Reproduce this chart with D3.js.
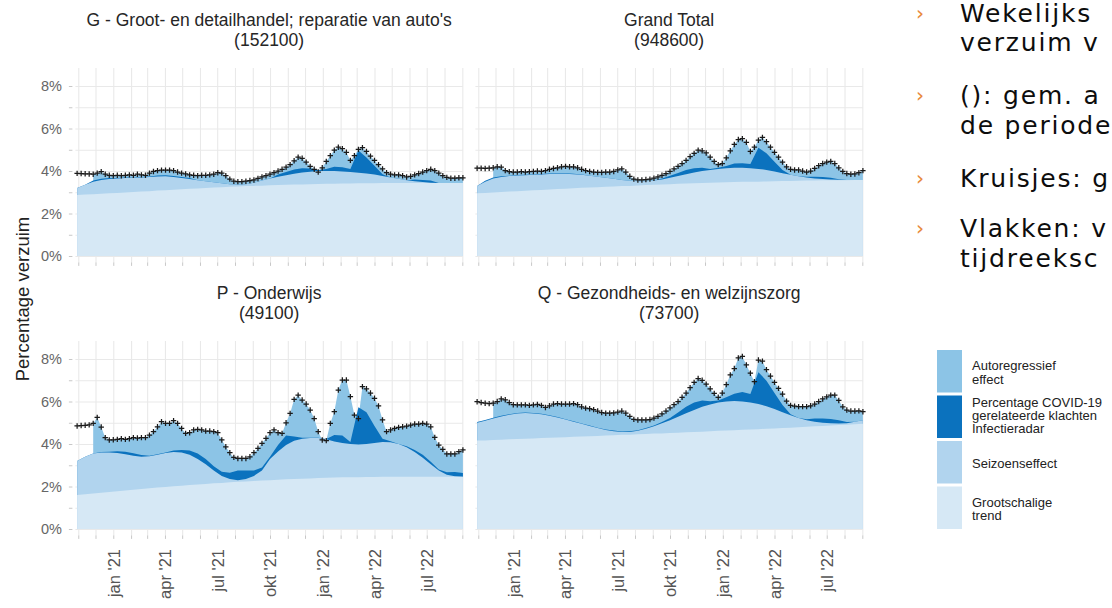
<!DOCTYPE html>
<html><head><meta charset="utf-8">
<script src="https://cdn.jsdelivr.net/npm/d3@7"></script>
<style>
html,body{margin:0;padding:0;background:#fff;}
svg{display:block;font-family:"Liberation Sans",Arial,Helvetica,sans-serif;}
</style></head><body>
<svg id="chart" width="1112" height="608"></svg>
<script>
// ---------------- DATA ----------------
const firstWeek = "2020-10-30";      // first weekly observation
const arStartWeek = 4;               // autoregressive effect available from this week on
const xTickDates = ["2021-01-01","2021-04-01","2021-07-01","2021-10-01","2022-01-01","2022-04-01","2022-07-01"];
const xTickLabels = ["jan '21","apr '21","jul '21","okt '21","jan '22","apr '22","jul '22"];
const yTickValues = [0,1,2,3,4,5,6,7,8];
const panelTitles = ["G - Groot- en detailhandel; reparatie van auto's","Grand Total","P - Onderwijs","Q - Gezondheids- en welzijnszorg"];
const panelCounts = ["(152100)","(948600)","(49100)","(73700)"];
const legendLabels = [["Autoregressief","effect"],["Percentage COVID-19","gerelateerde klachten","Infectieradar"],["Seizoenseffect"],["Grootschalige","trend"]];
// slide text as visible in the (cropped) reference
const slideBullets = [["Wekelijks","verzuim v"],["(): gem. a","de periode"],["Kruisjes: g"],["Vlakken: v","tijdreeksc"]];

// weekly observed absence (%), crosses
const totalG = [3.89,3.88,3.87,3.86,3.85,3.9,3.97,3.85,3.8,3.78,3.8,3.78,3.8,3.82,3.8,3.85,3.82,3.8,3.9,3.98,4.02,4.04,4.04,4.04,4.02,3.95,3.9,3.86,3.82,3.8,3.78,3.8,3.8,3.82,3.85,3.92,3.9,3.78,3.62,3.52,3.5,3.5,3.52,3.55,3.58,3.65,3.72,3.78,3.85,3.92,4.0,4.08,4.18,4.3,4.48,4.65,4.6,4.42,4.22,4.08,3.95,4.15,4.45,4.72,4.98,5.12,5.05,4.88,4.5,4.72,5.02,5.1,4.92,4.7,4.5,4.3,4.1,3.92,3.85,3.82,3.82,3.78,3.72,3.75,3.82,3.88,3.95,4.02,4.08,4.02,3.9,3.78,3.7,3.66,3.66,3.68,3.68];
const totalGT = [4.13,4.13,4.12,4.13,4.15,4.2,4.18,4.02,3.97,3.95,3.95,3.97,3.95,3.97,3.98,4.0,3.98,4.02,4.08,4.12,4.15,4.2,4.22,4.2,4.2,4.15,4.08,4.02,3.98,3.95,3.93,3.93,3.95,3.95,3.98,4.05,4.1,3.95,3.75,3.62,3.58,3.58,3.6,3.62,3.66,3.72,3.8,3.88,3.98,4.1,4.22,4.35,4.5,4.68,4.83,4.98,4.95,4.85,4.65,4.45,4.3,4.35,4.62,4.95,5.25,5.48,5.52,5.35,4.92,5.12,5.45,5.58,5.38,5.12,4.88,4.65,4.42,4.2,4.08,4.05,4.05,4.0,3.95,4.0,4.12,4.25,4.35,4.42,4.45,4.35,4.15,3.98,3.88,3.85,3.86,3.92,4.02];
const totalP = [4.85,4.87,4.88,4.9,4.97,5.25,4.8,4.3,4.19,4.2,4.22,4.25,4.22,4.25,4.3,4.28,4.3,4.3,4.42,4.58,4.81,5.05,4.97,4.97,5.1,4.97,4.73,4.5,4.53,4.66,4.69,4.66,4.61,4.61,4.58,4.53,4.19,3.87,3.59,3.37,3.32,3.32,3.32,3.4,3.59,3.8,4.03,4.27,4.53,4.66,4.53,4.5,5.0,5.44,6.1,6.3,6.07,5.88,5.6,5.2,4.58,4.19,4.16,4.97,5.52,6.54,7.01,7.01,6.23,5.36,5.2,6.7,6.6,6.4,6.15,5.79,5.13,4.58,4.66,4.73,4.78,4.81,4.84,4.89,4.94,4.94,4.97,4.94,4.81,4.31,3.95,3.75,3.53,3.53,3.53,3.64,3.72];
const totalQ = [5.99,5.95,5.92,5.9,5.92,6.0,6.12,6.08,5.95,5.85,5.84,5.84,5.84,5.82,5.84,5.86,5.82,5.72,5.8,5.88,5.9,5.88,5.88,5.88,5.9,5.85,5.75,5.69,5.66,5.62,5.55,5.48,5.45,5.45,5.46,5.5,5.55,5.45,5.3,5.16,5.13,5.13,5.13,5.15,5.22,5.3,5.42,5.55,5.7,5.85,6.0,6.2,6.4,6.65,6.9,7.08,7.0,6.82,6.6,6.38,6.2,6.4,6.8,7.25,7.55,8.05,8.12,7.72,7.33,6.93,7.95,7.9,7.5,7.2,6.9,6.62,6.35,6.02,5.82,5.78,5.76,5.76,5.76,5.8,5.88,6.0,6.12,6.22,6.3,6.3,6.05,5.75,5.6,5.55,5.55,5.56,5.52];

// biweekly components (percentage points): large-scale trend, seasonal effect, COVID-19 effect
const trendG = [2.87,2.89,2.91,2.93,2.95,2.97,2.99,3.01,3.03,3.05,3.08,3.10,3.12,3.14,3.16,3.18,3.20,3.22,3.24,3.26,3.27,3.29,3.30,3.31,3.33,3.34,3.35,3.36,3.37,3.38,3.39,3.40,3.40,3.41,3.41,3.42,3.42,3.42,3.43,3.43,3.43,3.43,3.43,3.43,3.43,3.43,3.43,3.43,3.43];
const seasonalG = [0.33,0.46,0.59,0.65,0.67,0.68,0.68,0.67,0.67,0.67,0.66,0.65,0.60,0.53,0.46,0.39,0.32,0.25,0.18,0.12,0.09,0.09,0.15,0.24,0.32,0.39,0.45,0.51,0.56,0.59,0.61,0.60,0.60,0.57,0.54,0.50,0.46,0.41,0.34,0.27,0.20,0.14,0.09,0.05,0.02,0.01,0,0,0];
const covidG = [0,0,0.05,0.05,0.05,0.02,0.02,0.02,0.02,0.02,0.05,0.05,0.05,0.05,0.05,0,0,0,0,0,0,0,0,0,0,0.1,0.15,0.2,0.2,0.15,0.05,0.1,0.2,0.2,0.15,1.05,0.75,0.42,0.08,0,0,0,0.08,0.1,0.1,0,0,0,0];

const trendGT = [2.95,2.97,2.99,3.01,3.03,3.05,3.07,3.09,3.11,3.13,3.15,3.17,3.19,3.21,3.22,3.24,3.26,3.27,3.29,3.30,3.32,3.34,3.35,3.37,3.38,3.40,3.41,3.42,3.43,3.45,3.46,3.47,3.48,3.49,3.49,3.50,3.51,3.52,3.53,3.53,3.54,3.55,3.55,3.56,3.56,3.57,3.57,3.58,3.58];
const seasonalGT = [0.35,0.53,0.66,0.71,0.73,0.74,0.73,0.73,0.73,0.73,0.72,0.70,0.66,0.61,0.56,0.49,0.42,0.36,0.29,0.24,0.20,0.18,0.20,0.23,0.30,0.36,0.44,0.51,0.57,0.60,0.64,0.66,0.67,0.66,0.64,0.60,0.54,0.46,0.37,0.29,0.21,0.15,0.10,0.06,0.04,0.02,0.01,0,0];
const covidGT = [0,0.04,0.04,0.03,0.02,0.02,0.02,0.02,0.02,0.02,0.02,0.02,0.02,0.02,0,0,0,0,0,0,0,0,0,0.05,0.1,0.15,0.2,0.2,0.15,0.05,0.05,0.1,0.2,0.22,0.2,1.0,0.78,0.45,0.15,0,0,0.03,0.08,0.1,0.08,0.02,0,0,0];

const trendP = [1.60,1.64,1.67,1.71,1.74,1.78,1.81,1.85,1.88,1.92,1.95,1.98,2.01,2.04,2.07,2.10,2.12,2.15,2.17,2.20,2.22,2.24,2.26,2.28,2.30,2.32,2.34,2.35,2.37,2.38,2.40,2.41,2.42,2.43,2.43,2.44,2.45,2.45,2.46,2.46,2.46,2.46,2.46,2.46,2.46,2.46,2.46,2.46,2.46];
const seasonalP = [1.60,1.76,1.88,1.89,1.86,1.80,1.71,1.60,1.52,1.50,1.55,1.60,1.61,1.56,1.43,1.20,0.93,0.60,0.33,0.15,0.08,0.11,0.24,0.47,1.00,1.33,1.61,1.80,1.88,1.90,1.88,1.81,1.70,1.62,1.57,1.54,1.55,1.60,1.64,1.62,1.54,1.39,1.16,0.89,0.59,0.29,0.09,0.02,0];
const covidP = [0,0,0,0.02,0.03,0.08,0.12,0.12,0.08,0.03,0.02,0.02,0.08,0.12,0.2,0.25,0.25,0.2,0.2,0.3,0.45,0.4,0.25,0.15,0.1,0.3,0.45,0.2,0.05,0.02,0.02,0.02,0.3,0.35,0.1,1.75,1.5,0.8,0.15,0.05,0,0.05,0.1,0.15,0.12,0.05,0.12,0.2,0.18];

const trendQ = [4.16,4.17,4.19,4.20,4.22,4.23,4.25,4.26,4.28,4.29,4.31,4.32,4.34,4.35,4.37,4.38,4.40,4.41,4.43,4.44,4.46,4.47,4.49,4.50,4.52,4.53,4.55,4.57,4.58,4.60,4.62,4.63,4.65,4.67,4.68,4.70,4.72,4.73,4.75,4.77,4.79,4.81,4.83,4.85,4.87,4.89,4.91,4.93,4.95];
const seasonalQ = [0.84,0.93,1.01,1.10,1.16,1.21,1.21,1.18,1.12,1.04,0.94,0.83,0.71,0.60,0.48,0.37,0.26,0.19,0.13,0.13,0.16,0.25,0.35,0.48,0.60,0.75,0.90,1.03,1.17,1.26,1.33,1.37,1.37,1.33,1.27,1.18,1.06,0.92,0.75,0.58,0.43,0.31,0.22,0.15,0.11,0.08,0.07,0.12,0.17];
const covidQ = [0.03,0.03,0.03,0.03,0.02,0.02,0.02,0.02,0.02,0.02,0.02,0.02,0.02,0.02,0.02,0.02,0.02,0.03,0.03,0.03,0.03,0.03,0.03,0.05,0.1,0.2,0.3,0.35,0.3,0.15,0.1,0.2,0.35,0.45,0.4,1.5,1.2,0.75,0.34,0.05,0,0.05,0.15,0.2,0.2,0.15,0.05,0,0];

// ---------------- LAYOUT ----------------
const colors = {ar:"#8cc4e6", covid:"#0b72be", seasonal:"#b1d4ee", trend:"#d6e8f5"};
const legendColors = [colors.ar, colors.covid, colors.seasonal, colors.trend];
const parse = d3.utcParse("%Y-%m-%d");
const week0 = parse(firstWeek);
const weeks = d3.range(totalG.length).map(i => d3.utcDay.offset(week0, 7*i));
const biweeks = d3.range(trendG.length).map(k => weeks[2*k]);
const months = d3.utcMonth.range(parse("2020-11-01"), parse("2022-09-02"));
const tickLabelMap = new Map(xTickDates.map((d,i)=>[+parse(d), xTickLabels[i]]));

const cols = [[75.4, 462.9],[475.4, 862.9]];
const rows = [{y0:256, top:68, bottom:262.4},{y0:529, top:341, bottom:535.4}];
const pxPerPct = 21.25;

const panels = [
  {total: totalG, trend: trendG, seasonal: seasonalG, covid: covidG, c:0, r:0},
  {total: totalGT, trend: trendGT, seasonal: seasonalGT, covid: covidGT, c:1, r:0},
  {total: totalP, trend: trendP, seasonal: seasonalP, covid: covidP, c:0, r:1},
  {total: totalQ, trend: trendQ, seasonal: seasonalQ, covid: covidQ, c:1, r:1}
];

const svg = d3.select("#chart");
const FONT = "'Liberation Sans',Arial,Helvetica,sans-serif";

panels.forEach((p, idx) => {
  const colR = cols[p.c], row = rows[p.r];
  const x = d3.scaleUtc().domain([parse("2020-10-27"), parse("2022-09-02")]).range(colR);
  const ymin = (row.y0 - row.bottom)/pxPerPct, ymax = (row.y0 - row.top)/pxPerPct;
  const y = d3.scaleLinear().domain([ymin, ymax]).range([row.bottom, row.top]);
  const g = svg.append("g");
  const w = colR[1]-colR[0];

  // gridlines
  const gx = g.append("g").attr("transform",`translate(0,${row.bottom})`)
    .call(d3.axisBottom(x).tickValues(months).tickSize(-(row.bottom-row.top)).tickFormat(""));
  const gy = g.append("g").attr("transform",`translate(${colR[0]},0)`)
    .call(d3.axisLeft(y).tickValues(yTickValues).tickSize(-w).tickFormat(""));
  [gx,gy].forEach(a => { a.select(".domain").remove(); a.selectAll("line").attr("stroke","#e9e9e9").attr("stroke-width",1.1); });

  // stacked cumulative levels
  const lvlTrend = p.trend.map(t=>t);
  const lvlSeason = p.trend.map((t,k)=>t + p.seasonal[k]);
  const lvlCovid = p.trend.map((t,k)=>t + p.seasonal[k] + p.covid[k]);

  const areaW = d3.area().x((d,i)=>x(weeks[i])).y0(y(0)).y1(d=>y(d)).defined((d,i)=>i>=arStartWeek);
  const areaB = d3.area().x((d,i)=>x(biweeks[i])).y0(y(0)).y1(d=>y(d));

  g.append("path").datum(p.total).attr("d", areaW).attr("fill", colors.ar);
  g.append("path").datum(lvlCovid).attr("d", areaB).attr("fill", colors.covid);
  g.append("path").datum(lvlSeason).attr("d", areaB).attr("fill", colors.seasonal);
  g.append("path").datum(lvlTrend).attr("d", areaB).attr("fill", colors.trend);

  // crosses
  g.append("g").selectAll("path").data(p.total).join("path")
    .attr("transform",(d,i)=>`translate(${x(weeks[i])},${y(d)})`)
    .attr("d","M-2.7,0H2.7M0,-2.7V2.7")
    .attr("stroke","#1a1a1a").attr("stroke-width",1.25).attr("fill","none");

  // x ticks
  const xa = g.append("g").attr("transform",`translate(0,${row.bottom})`)
    .call(d3.axisBottom(x).tickValues(months).tickSize(3.5).tickPadding(0)
      .tickFormat(d => p.r===1 ? (tickLabelMap.get(+d) || "") : ""));
  xa.select(".domain").remove();
  xa.selectAll("line").attr("stroke","#c8c8c8");
  xa.selectAll("text")
    .attr("transform","rotate(-90)")
    .attr("text-anchor","end")
    .attr("x", -(549-row.bottom)).attr("y",0).attr("dy","0.36em")
    .attr("font-family",FONT).attr("font-size",16.5).attr("fill","#555");

  // y ticks (left column only)
  if (p.c===0) {
    const ya = g.append("g").attr("transform",`translate(${colR[0]-3},0)`)
      .call(d3.axisLeft(y).tickValues(yTickValues).tickSize(3.5).tickPadding(7)
        .tickFormat(d => d%2===0 ? d+"%" : ""));
    ya.select(".domain").remove();
    ya.selectAll("line").attr("stroke","#c8c8c8");
    ya.selectAll("text").attr("font-family",FONT).attr("font-size",14.5).attr("fill","#666");
  }

  // title
  const cx = (colR[0]+colR[1])/2;
  g.append("text").attr("x",cx).attr("y",row.top-42).attr("text-anchor","middle")
    .attr("font-family",FONT).attr("font-size",17.5).attr("fill","#262626").text(panelTitles[idx]);
  g.append("text").attr("x",cx).attr("y",row.top-22).attr("text-anchor","middle")
    .attr("font-family",FONT).attr("font-size",17.5).attr("fill","#262626").text(panelCounts[idx]);
});

// y axis title
svg.append("text").attr("transform","translate(29,299) rotate(-90)").attr("text-anchor","middle")
  .attr("font-family",FONT).attr("font-size",18.5).attr("fill","#222").text("Percentage verzuim");

// legend
const legTop = [350, 395.5, 441, 486.5];
const legText = [[370,384],[406.5,420,433],[468],[506.5,519.5]];
const leg = svg.append("g");
legendLabels.forEach((lines,i)=>{
  leg.append("rect").attr("x",937).attr("y",legTop[i]).attr("width",25).attr("height",42.5).attr("fill",legendColors[i]);
  lines.forEach((t,j)=>{
    leg.append("text").attr("x",972).attr("y",legText[i][j]).attr("font-family",FONT)
      .attr("font-size",13).attr("fill","#222").text(t);
  });
});

// slide bullet text
const sb = svg.append("g");
const bulletBase = [[22,51],[104,134],[187],[237,267]];
slideBullets.forEach((lines,i)=>{
  sb.append("text").attr("x",916).attr("y",bulletBase[i][0]-2).attr("font-family","'DejaVu Sans',Verdana,sans-serif")
    .attr("font-size",20).attr("fill","#e8893a").text("›");
  lines.forEach((t,j)=>{
    sb.append("text").attr("x",960).attr("y",bulletBase[i][j]).attr("font-family","'DejaVu Sans',Verdana,sans-serif")
      .attr("font-size",25).attr("letter-spacing",1.8).attr("fill","#0d0d0d").text(t);
  });
});
</script>
</body></html>
